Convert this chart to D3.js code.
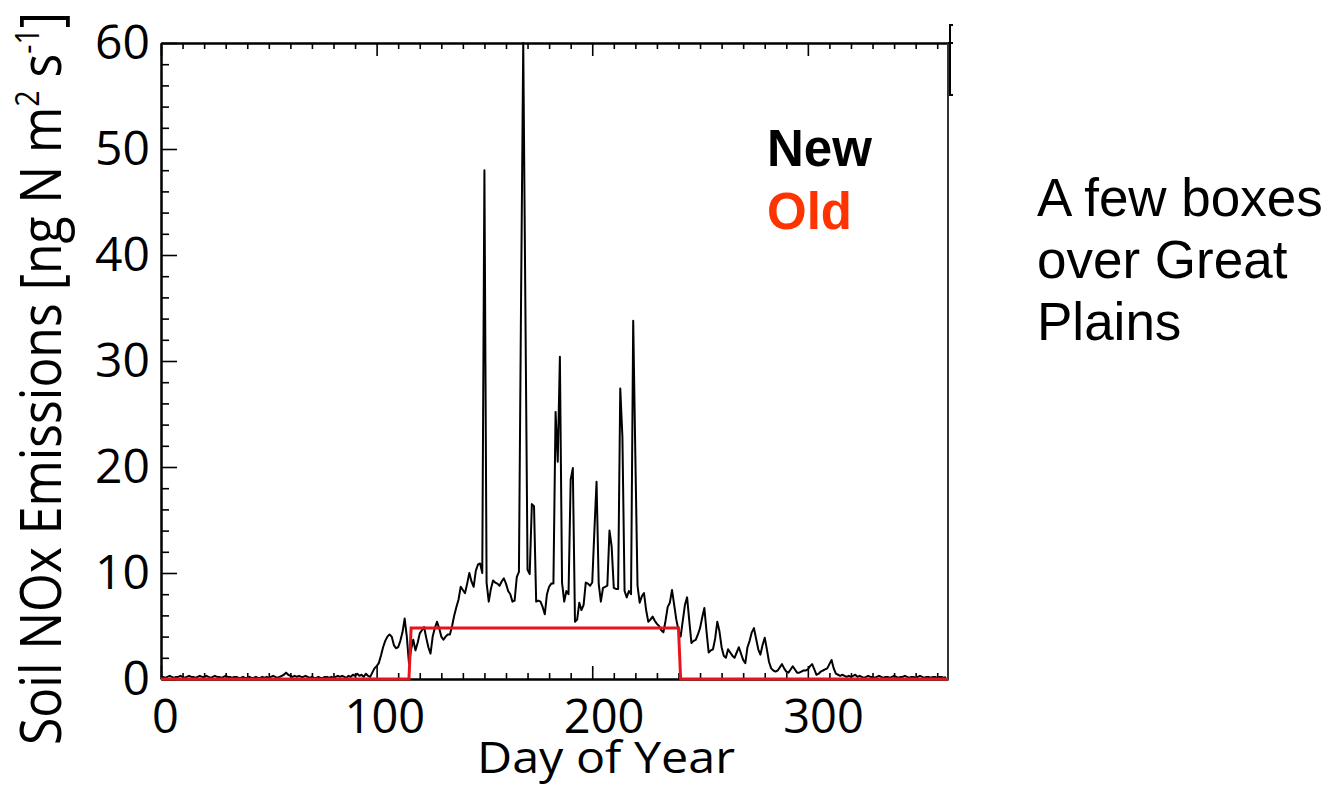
<!DOCTYPE html>
<html lang="en">
  <head>
    <meta charset="UTF-8" />
    <title>Soil NOx Emissions</title>
    <script src="https://d3js.org/d3.v7.min.js"></script>
    <style>
      body { margin: 0; background: #fff; }
      svg { display: block; }
    </style>
  </head>
  <body>
    <div id="graph"></div>
    <script>
      // daily soil NOx emissions, day 0..364 (new scheme)
      var newValues = [
        0.2,0.2,0.1,0.2,0.3,0.2,0.1,0.2,0.2,0.3,
        0.2,0.1,0.2,0.3,0.2,0.2,0.1,0.2,0.3,0.2,
        0.2,0.3,0.2,0.1,0.2,0.3,0.2,0.2,0.1,0.2,
        0.3,0.2,0.2,0.1,0.2,0.2,0.1,0.1,0.2,0.1,
        0.1,0.2,0.1,0.1,0.2,0.1,0.1,0.2,0.1,0.2,
        0.1,0.2,0.3,0.2,0.1,0.2,0.3,0.4,0.6,0.4,
        0.3,0.2,0.3,0.2,0.3,0.2,0.2,0.3,0.2,0.1,
        0.2,0.1,0.1,0.2,0.1,0.1,0.2,0.2,0.1,0.2,
        0.1,0.2,0.3,0.2,0.3,0.2,0.1,0.3,0.2,0.4,
        0.3,0.5,0.3,0.4,0.2,0.5,0.3,0.2,0.6,1.0,
        1.2,1.5,2.2,3.0,3.6,4.0,4.2,4.0,3.2,2.9,
        3.0,3.6,4.4,5.7,4.0,1.5,2.8,3.7,2.7,3.4,
        4.3,4.6,4.9,3.9,3.0,2.4,4.0,4.8,5.4,4.8,
        4.0,3.7,4.0,4.2,4.2,5.0,6.0,6.8,7.5,8.7,
        8.4,8.1,9.0,10.0,9.2,8.7,10.2,10.8,10.9,10.0,
        48.0,9.1,7.3,8.5,9.3,9.1,9.0,8.8,9.2,9.5,
        9.0,8.3,8.0,7.3,7.4,9.6,10.1,36.0,60.0,35.0,
        10.3,9.9,16.5,16.3,7.3,7.4,7.3,6.8,6.1,8.0,
        8.7,9.0,9.0,25.2,20.5,30.4,9.1,7.3,8.3,8.0,
        18.8,19.9,5.4,5.6,7.2,6.5,7.0,9.1,9.0,8.8,
        9.1,14.0,18.6,9.0,7.3,8.6,8.7,8.8,14.0,12.5,
        8.6,8.5,8.5,27.4,22.8,8.3,7.7,8.3,8.0,33.8,
        21.0,8.8,7.2,7.8,8.1,6.5,5.4,5.6,5.9,5.5,
        5.2,5.0,4.6,4.4,5.5,6.8,7.2,8.4,7.0,5.6,
        4.6,4.0,5.5,7.0,7.7,5.5,3.4,3.6,3.7,4.2,
        4.8,5.8,6.7,4.5,2.5,2.7,2.8,3.8,5.4,4.5,
        3.0,2.2,2.0,2.8,2.5,2.2,2.0,2.5,3.0,2.4,
        1.8,1.5,3.0,3.6,4.4,4.8,3.8,2.8,2.3,3.2,
        3.9,2.8,1.6,1.0,0.8,0.7,0.8,1.1,1.4,1.0,
        0.7,0.6,0.9,1.2,0.9,0.6,0.6,0.7,0.8,0.8,
        0.9,1.2,1.4,0.9,0.4,0.5,0.7,0.8,0.9,1.0,
        1.4,1.8,1.0,0.5,0.4,0.3,0.4,0.3,0.2,0.3,
        0.2,0.3,0.4,0.2,0.3,0.2,0.1,0.2,0.3,0.2,
        0.2,0.1,0.2,0.3,0.2,0.1,0.2,0.2,0.1,0.2,
        0.3,0.2,0.1,0.2,0.2,0.3,0.2,0.1,0.2,0.2,
        0.1,0.2,0.3,0.2,0.1,0.2,0.2,0.1,0.2,0.2,
        0.1,0.2,0.2,0.1,0.2
      ];

      // old scheme: a flat step during the growing season
      var oldDays = [0, 115, 116, 240, 241, 365];
      var oldValues = [0, 0, 4.8, 4.8, 0, 0];

      var xTicks = [0, 100, 200, 300];
      var yTicks = [0, 10, 20, 30, 40, 50, 60];
      var legendLabels = ["New", "Old"];
      var noteLines = ["A few boxes", "over Great", "Plains"];

      var W = 1337, H = 786;
      var plot = { left: 161, right: 948, top: 43, bottom: 679 };

      var svg = d3
        .select("#graph")
        .append("svg")
        .attr("width", W)
        .attr("height", H);

      svg.append("rect").attr("width", W).attr("height", H).attr("fill", "#fff");

      var x = d3.scaleLinear().domain([0, 365]).range([plot.left, plot.right]);
      var y = d3.scaleLinear().domain([0, 60]).range([plot.bottom, plot.top]);
      // tick labels in the original sit on a slightly wider spacing than the ticks
      var xLabel = d3.scaleLinear().domain([0, 300]).range([165, 823]);

      var xMinor = d3.range(0, 366, 10).filter((d) => d % 100 != 0);
      var yMinor = d3.range(0, 61, 2).filter((d) => d % 10 != 0);

      function styleAxis(g) {
        g.select(".domain").attr("stroke", "#000").attr("stroke-width", 2);
        g.selectAll(".tick line").attr("stroke", "#000").attr("stroke-width", 1.6);
      }

      // bottom axis
      svg.append("g")
        .attr("transform", `translate(0,${plot.bottom})`)
        .call(d3.axisBottom(x).tickValues(xMinor).tickSizeInner(-6).tickSizeOuter(0).tickFormat(""))
        .call(styleAxis);
      var xAx = svg.append("g")
        .attr("transform", `translate(0,${plot.bottom})`)
        .call(d3.axisBottom(x).tickValues(xTicks).tickSizeInner(-13).tickSizeOuter(0).tickPadding(21))
        .call(styleAxis);
      xAx.selectAll("text")
        .attr("x", (d) => xLabel(d) - x(d))
        .attr("fill", "#000")
        .style("font-family", "'Open Sans', sans-serif")
        .style("font-size", "47px");

      // top axis
      svg.append("g")
        .attr("transform", `translate(0,${plot.top})`)
        .call(d3.axisTop(x).tickValues(xMinor).tickSizeInner(-6).tickSizeOuter(0).tickFormat(""))
        .call(styleAxis);
      svg.append("g")
        .attr("transform", `translate(0,${plot.top})`)
        .call(d3.axisTop(x).tickValues(xTicks).tickSizeInner(-13).tickSizeOuter(0).tickFormat(""))
        .call(styleAxis);

      // left axis
      svg.append("g")
        .attr("transform", `translate(${plot.left},0)`)
        .call(d3.axisLeft(y).tickValues(yMinor).tickSizeInner(-8).tickSizeOuter(0).tickFormat(""))
        .call(styleAxis);
      var yAx = svg.append("g")
        .attr("transform", `translate(${plot.left},0)`)
        .call(d3.axisLeft(y).tickValues(yTicks).tickSizeInner(-16).tickSizeOuter(0).tickPadding(11))
        .call(styleAxis);
      yAx.selectAll("text")
        .attr("fill", "#000")
        .style("font-family", "'Open Sans', sans-serif")
        .style("font-size", "48px");

      // right edge and top line overhang
      svg.append("line")
        .attr("x1", plot.right).attr("x2", plot.right)
        .attr("y1", plot.top).attr("y2", plot.bottom)
        .attr("stroke", "#333").attr("stroke-width", 2);
      svg.append("line")
        .attr("x1", plot.right).attr("x2", plot.right + 5)
        .attr("y1", plot.top).attr("y2", plot.top)
        .attr("stroke", "#000").attr("stroke-width", 2);
      svg.append("path")
        .attr("d", `M${plot.right + 5},25 H${plot.right + 2} V95 H${plot.right + 5}`)
        .attr("fill", "none").attr("stroke", "#000").attr("stroke-width", 2);

      var line = d3.line()
        .x((d) => x(d[0]))
        .y((d) => y(d[1]));

      // new
      svg.append("path")
        .datum(newValues.map((v, i) => [i, v]))
        .attr("fill", "none")
        .attr("stroke", "#000")
        .attr("stroke-width", 2)
        .attr("stroke-linejoin", "round")
        .attr("d", line);

      // old
      svg.append("path")
        .datum(oldDays.map((d, i) => [d, oldValues[i]]))
        .attr("fill", "none")
        .attr("stroke", "#e8141c")
        .attr("stroke-width", 3)
        .attr("d", line);

      // axis titles
      svg.append("text")
        .attr("x", 606)
        .attr("y", 773)
        .attr("text-anchor", "middle")
        .attr("textLength", 258)
        .attr("lengthAdjust", "spacingAndGlyphs")
        .style("font-family", "'Open Sans', sans-serif")
        .style("font-size", "43px")
        .text("Day of Year");

      var yt = svg.append("text")
        .attr("transform", "translate(61,745) rotate(-90)")
        .attr("textLength", 733)
        .attr("lengthAdjust", "spacingAndGlyphs")
        .style("font-family", "'Open Sans', sans-serif")
        .style("font-size", "56px");
      yt.append("tspan").text("Soil NOx Emissions [ng N m");
      yt.append("tspan").attr("dy", -22).style("font-size", "32px").text("2");
      yt.append("tspan").attr("dy", 22).text(" s");
      yt.append("tspan").attr("dy", -22).style("font-size", "32px").text("-1");
      yt.append("tspan").attr("dy", 22).text("]");

      // legend
      svg.selectAll(".legend")
        .data(legendLabels)
        .enter()
        .append("text")
        .attr("class", "legend")
        .attr("x", 767)
        .attr("y", (d, i) => 166 + i * 63)
        .attr("fill", (d, i) => (i == 0 ? "#000" : "#ff3300"))
        .style("font-family", "'Liberation Sans', Arial, sans-serif")
        .style("font-weight", "bold")
        .style("font-size", "51px")
        .text((d) => d);

      // side note
      svg.selectAll(".note")
        .data(noteLines)
        .enter()
        .append("text")
        .attr("class", "note")
        .attr("x", 1037)
        .attr("y", (d, i) => 216 + i * 62)
        .style("font-family", "'Liberation Sans', Arial, sans-serif")
        .style("font-size", "53px")
        .text((d) => d);
    </script>
  </body>
</html>
